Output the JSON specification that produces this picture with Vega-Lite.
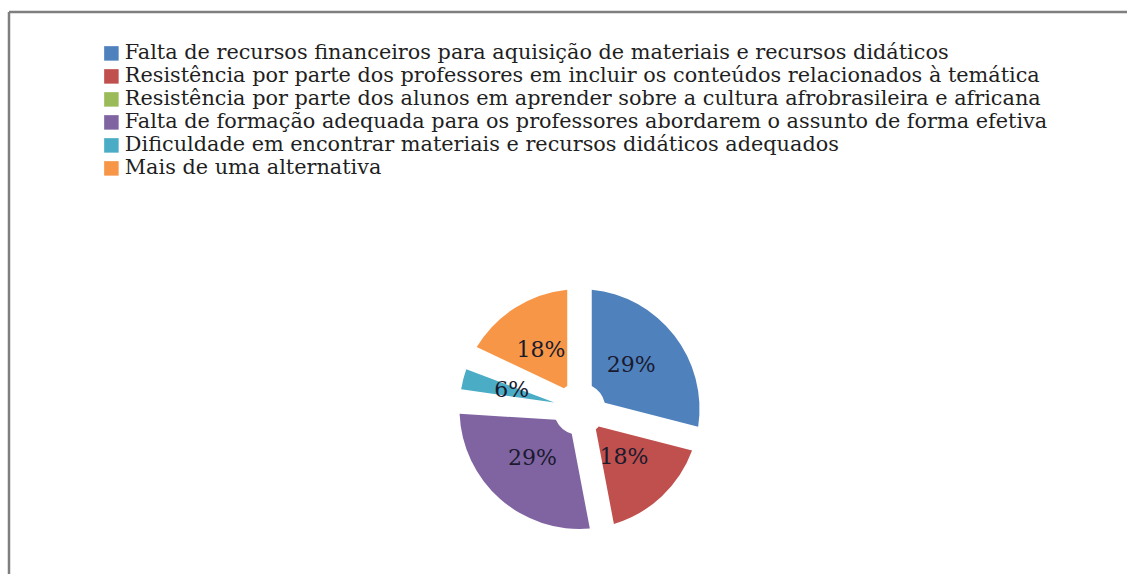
{
  "$schema": "https://vega.github.io/schema/vega-lite/v6.json",
  "width": 1129,
  "height": 576,
  "autosize": {"type": "fit", "contains": "padding"},
  "padding": {"left": 7, "top": 10, "right": 0, "bottom": 0},
  "background": "white",
  "config": {
    "view": {"stroke": null},
    "font": "DejaVu Serif"
  },
  "data": {
    "values": [
      {"idx": 1, "category": "Falta de recursos financeiros para aquisição de materiais e recursos didáticos", "share": 0.29},
      {"idx": 2, "category": "Resistência por parte dos professores em incluir os conteúdos relacionados à temática", "share": 0.18},
      {"idx": 3, "category": "Resistência por parte dos alunos em aprender sobre a cultura afrobrasileira e africana", "share": 0.0},
      {"idx": 4, "category": "Falta de formação adequada para os professores abordarem o assunto de forma efetiva", "share": 0.29},
      {"idx": 5, "category": "Dificuldade em encontrar materiais e recursos didáticos adequados", "share": 0.06},
      {"idx": 6, "category": "Mais de uma alternativa", "share": 0.18}
    ]
  },
  "layer": [
    {
      "data": {"values": [{"edge": "top"}]},
      "mark": {"type": "rule", "color": "#7f7f7f", "strokeWidth": 2.5},
      "encoding": {"y": {"value": 0}}
    },
    {
      "data": {"values": [{"edge": "left"}]},
      "mark": {"type": "rule", "color": "#7f7f7f", "strokeWidth": 2.5},
      "encoding": {"x": {"value": 0}}
    },
    {
      "mark": {"type": "arc", "outerRadius": 120, "innerRadius": 26, "padAngle": 0.2, "xOffset": 11.5, "yOffset": 116},
      "encoding": {
        "theta": {"field": "share", "type": "quantitative", "stack": true},
        "order": {"field": "idx", "type": "quantitative"},
        "color": {
          "field": "category",
          "type": "nominal",
          "scale": {
            "domain": [
              "Falta de recursos financeiros para aquisição de materiais e recursos didáticos",
              "Resistência por parte dos professores em incluir os conteúdos relacionados à temática",
              "Resistência por parte dos alunos em aprender sobre a cultura afrobrasileira e africana",
              "Falta de formação adequada para os professores abordarem o assunto de forma efetiva",
              "Dificuldade em encontrar materiais e recursos didáticos adequados",
              "Mais de uma alternativa"
            ],
            "range": ["#4f81bd", "#c0504d", "#9bbb59", "#8064a2", "#4bacc6", "#f79646"]
          },
          "legend": {
            "orient": "none",
            "legendX": 92,
            "legendY": 31,
            "title": null,
            "symbolType": "square",
            "symbolSize": 210,
            "symbolStrokeWidth": 0,
            "labelFont": "DejaVu Serif",
            "labelFontSize": 20.8,
            "labelColor": "#1f1f1f",
            "labelLimit": 1100,
            "rowPadding": 1,
            "labelOffset": 3,
            "padding": 0,
            "labelExpr": "indexof(datum.label, 'Falta') == 0 ? '\u00a0' + datum.label : datum.label"
          }
        }
      }
    },
    {
      "transform": [{"filter": "datum.share > 0"}],
      "mark": {"type": "text", "radius": 68, "xOffset": 9.5, "yOffset": 114, "fontSize": 22, "font": "DejaVu Serif", "color": "#1a1a2e"},
      "encoding": {
        "theta": {"field": "share", "type": "quantitative", "stack": true},
        "order": {"field": "idx", "type": "quantitative"},
        "text": {"field": "share", "type": "quantitative", "format": ".0%"}
      }
    }
  ]
}
